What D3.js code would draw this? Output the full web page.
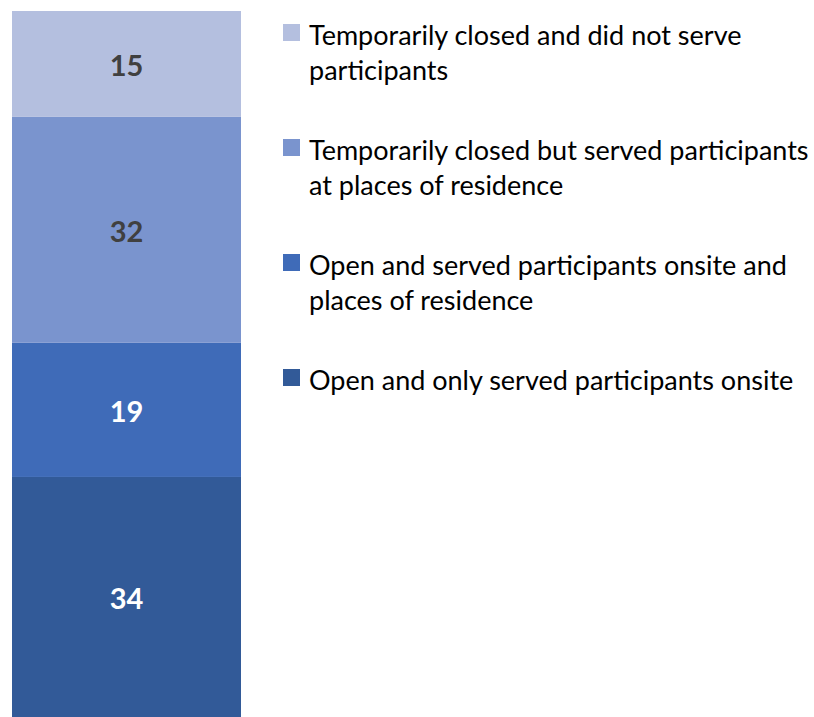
<!DOCTYPE html>
<html><head><meta charset="utf-8">
<script src="https://cdn.jsdelivr.net/npm/d3@7"></script>
<style>body{margin:0;background:#fff}</style>
</head><body>
<svg id="c" width="814" height="717"></svg>
<script>
const categories = [
  "Open and only served participants onsite",
  "Open and served participants onsite and places of residence",
  "Temporarily closed but served participants at places of residence",
  "Temporarily closed and did not serve participants"
];
const values = [34, 19, 32, 15];
const colors = ["#325A98", "#3F6BB8", "#7A94CE", "#B4BFDF"];
const labelColors = ["#ffffff", "#ffffff", "#404040", "#404040"];
const legendOrder = [3, 2, 1, 0];
const legendLines = [
  ["Temporarily closed and did not serve", "participants"],
  ["Temporarily closed but served participants", "at places of residence"],
  ["Open and served participants onsite and", "places of residence"],
  ["Open and only served participants onsite"]
];

const svg = d3.select("#c");
const font = "Lato, 'Open Sans', sans-serif";
const y = d3.scaleLinear().domain([0, 100]).range([717, 11]);
const x = d3.scaleBand().domain(["all"]).range([12, 241]).padding(0);

let cum = 0;
const stacked = values.map((v, i) => { const s = {i, v, y0: cum, y1: cum + v}; cum += v; return s; });

svg.selectAll("rect.seg").data(stacked).join("rect")
  .attr("x", x("all")).attr("width", x.bandwidth())
  .attr("y", d => y(d.y1)).attr("height", d => y(d.y0) - y(d.y1))
  .attr("fill", d => colors[d.i]);

svg.selectAll("text.val").data(stacked).join("text")
  .attr("x", x("all") + x.bandwidth() / 2)
  .attr("y", d => (y(d.y0) + y(d.y1)) / 2 + 2)
  .attr("dy", "0.36em").attr("text-anchor", "middle")
  .attr("font-family", font).attr("font-weight", "bold").attr("font-size", 29)
  .attr("fill", d => labelColors[d.i]).text(d => d.v);

const lg = svg.append("g");
const entryTop = [24, 139, 254, 369];
legendOrder.forEach((ci, k) => {
  const g = lg.append("g").attr("transform", `translate(283,${entryTop[k]})`);
  g.append("rect").attr("width", 17).attr("height", 17).attr("fill", colors[ci]);
  legendLines[k].forEach((ln, j) => {
    g.append("text").attr("x", 26).attr("y", 12 + j * 35).attr("dy", "0.35em")
      .attr("font-family", font).attr("font-size", 27).attr("fill", "#000").text(ln);
  });
});
</script>
</body></html>
